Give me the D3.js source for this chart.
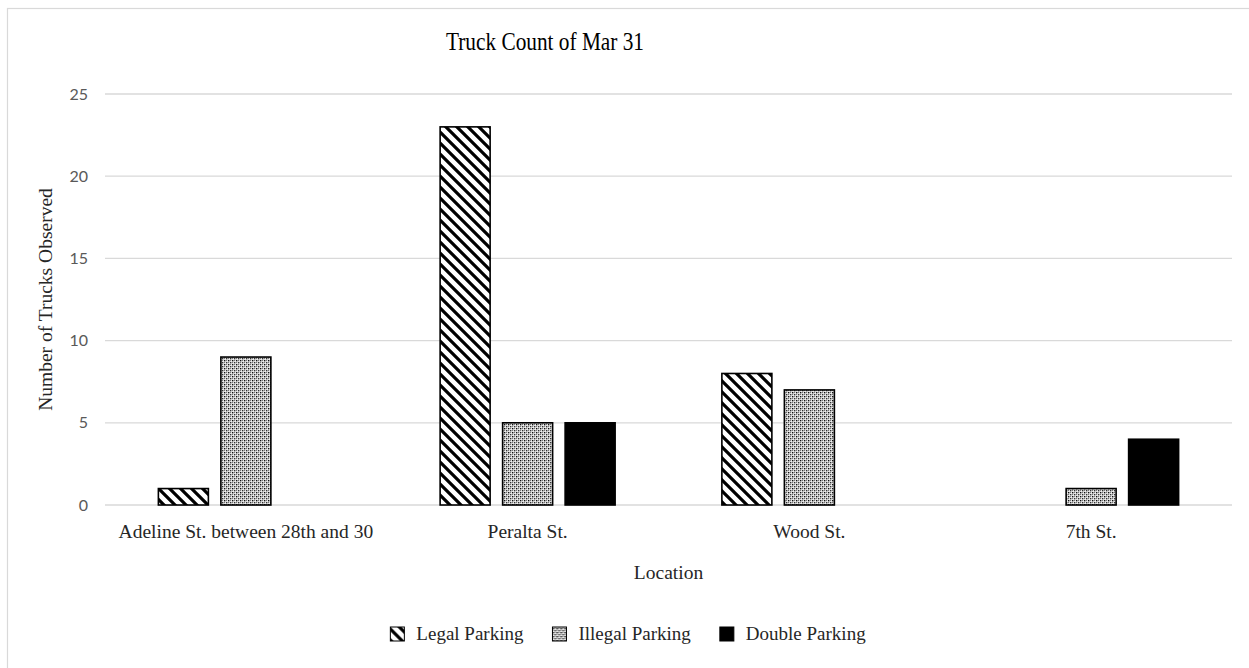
<!DOCTYPE html>
<html>
<head>
<meta charset="utf-8">
<script src="https://cdn.jsdelivr.net/npm/d3@7"></script>
<style>
  html, body { margin: 0; padding: 0; background: #fff; }
  svg { display: block; }
</style>
</head>
<body>
<svg id="chart" width="1249" height="668"></svg>
<script>
const categories = ["Adeline St. between 28th and 30", "Peralta St.", "Wood St.", "7th St."];
const seriesNames = ["Legal Parking", "Illegal Parking", "Double Parking"];
const legalParking = [1, 23, 8, 0];
const illegalParking = [9, 5, 7, 1];
const doubleParking = [0, 5, 0, 4];
const yTicks = [0, 5, 10, 15, 20, 25];

const seriesValues = [legalParking, illegalParking, doubleParking];
const fills = ["url(#legal)", "url(#illegal)", "#000"];

const svg = d3.select("#chart");
const serif = "'Liberation Serif', 'DejaVu Serif', serif";
const sans = "Lato, 'Liberation Sans', sans-serif";

// Patterns
const defs = svg.append("defs");
const pL = defs.append("pattern").attr("id", "legal").attr("patternUnits", "userSpaceOnUse")
  .attr("width", 11).attr("height", 11);
pL.append("rect").attr("width", 11).attr("height", 11).attr("fill", "#fff");
pL.append("path").attr("d", "M-2,-2 L13,13 M-2,9 L2,13 M9,-2 L13,2")
  .attr("stroke", "#000").attr("stroke-width", 3.2);

const pI = defs.append("pattern").attr("id", "illegal").attr("patternUnits", "userSpaceOnUse")
  .attr("width", 4).attr("height", 4);
pI.append("rect").attr("width", 4).attr("height", 4).attr("fill", "#f4f4f4");
pI.append("rect").attr("x", 0).attr("y", 0).attr("width", 1.4).attr("height", 1.4).attr("fill", "#111");
pI.append("rect").attr("x", 2).attr("y", 2).attr("width", 1.4).attr("height", 1.4).attr("fill", "#333");
pI.append("rect").attr("x", 2).attr("y", 0).attr("width", 1.2).attr("height", 1.2).attr("fill", "#777");
pI.append("rect").attr("x", 0).attr("y", 2).attr("width", 1.2).attr("height", 1.2).attr("fill", "#777");

// Chart border
svg.append("rect").attr("x", 7.5).attr("y", 8.5).attr("width", 1260).attr("height", 680)
  .attr("fill", "none").attr("stroke", "#d9d9d9").attr("stroke-width", 1.2);

const plot = { left: 105, right: 1232, top: 94, bottom: 505 };

const x0 = d3.scaleBand().domain(categories).range([plot.left, plot.right]).paddingInner(0).paddingOuter(0);
const y = d3.scaleLinear().domain([0, 25]).range([plot.bottom, plot.top]);

const barW = 50;
const step = 62.5;

// Gridlines
svg.append("g").selectAll("line").data(yTicks).join("line")
  .attr("x1", plot.left).attr("x2", plot.right)
  .attr("y1", d => y(d)).attr("y2", d => y(d))
  .attr("stroke", "#d9d9d9").attr("stroke-width", 1.3);

// Y axis tick labels
svg.append("g").selectAll("text").data(yTicks).join("text")
  .attr("x", 88).attr("y", d => y(d)).attr("dy", "0.35em")
  .attr("text-anchor", "end")
  .attr("font-family", sans).attr("font-size", 16).attr("fill", "#595959")
  .text(d => d);

// Bars
const groups = svg.append("g").selectAll("g").data(categories).join("g");
seriesValues.forEach((vals, si) => {
  groups.append("rect")
    .attr("x", (c) => x0(c) + x0.bandwidth() / 2 + (si - 1) * step - barW / 2)
    .attr("width", barW)
    .attr("y", (c, i) => y(vals[i]))
    .attr("height", (c, i) => y(0) - y(vals[i]))
    .attr("fill", fills[si])
    .attr("stroke", (c, i) => vals[i] > 0 ? "#000" : "none")
    .attr("stroke-width", 1.6);
});

// Category labels
svg.append("g").selectAll("text").data(categories).join("text")
  .attr("x", c => x0(c) + x0.bandwidth() / 2)
  .attr("y", 538)
  .attr("text-anchor", "middle")
  .attr("font-family", serif).attr("font-size", 19.5).attr("fill", "#262626")
  .text(c => c);

// Title
svg.append("text").attr("x", 545).attr("y", 50).attr("text-anchor", "middle")
  .attr("font-family", serif).attr("font-size", 26).attr("fill", "#000")
  .attr("textLength", 198).attr("lengthAdjust", "spacingAndGlyphs")
  .text("Truck Count of Mar 31");

// Axis titles
svg.append("text").attr("x", (plot.left + plot.right) / 2).attr("y", 579).attr("text-anchor", "middle")
  .attr("font-family", serif).attr("font-size", 19.5).attr("fill", "#262626")
  .text("Location");

svg.append("text").attr("transform", `translate(52, ${(plot.top + plot.bottom) / 2}) rotate(-90)`)
  .attr("text-anchor", "middle")
  .attr("font-family", serif).attr("font-size", 19.5).attr("fill", "#262626")
  .text("Number of Trucks Observed");

// Legend
const legend = svg.append("g");
const sw = 14, gapSwText = 12, gapItems = 29;
let items = seriesNames.map((n, i) => {
  const g = legend.append("g");
  g.append("rect").attr("width", sw).attr("height", sw).attr("y", -sw + 1)
    .attr("fill", fills[i]).attr("stroke", "#000").attr("stroke-width", 1);
  const t = g.append("text").attr("x", sw + gapSwText).attr("y", 0)
    .attr("font-family", serif).attr("font-size", 19).attr("fill", "#262626").text(n);
  return { g, w: sw + gapSwText + t.node().getComputedTextLength() };
});
const total = d3.sum(items, d => d.w) + gapItems * (items.length - 1);
let cx = 628 - total / 2;
items.forEach(it => { it.g.attr("transform", `translate(${cx}, 640)`); cx += it.w + gapItems; });
</script>
</body>
</html>
